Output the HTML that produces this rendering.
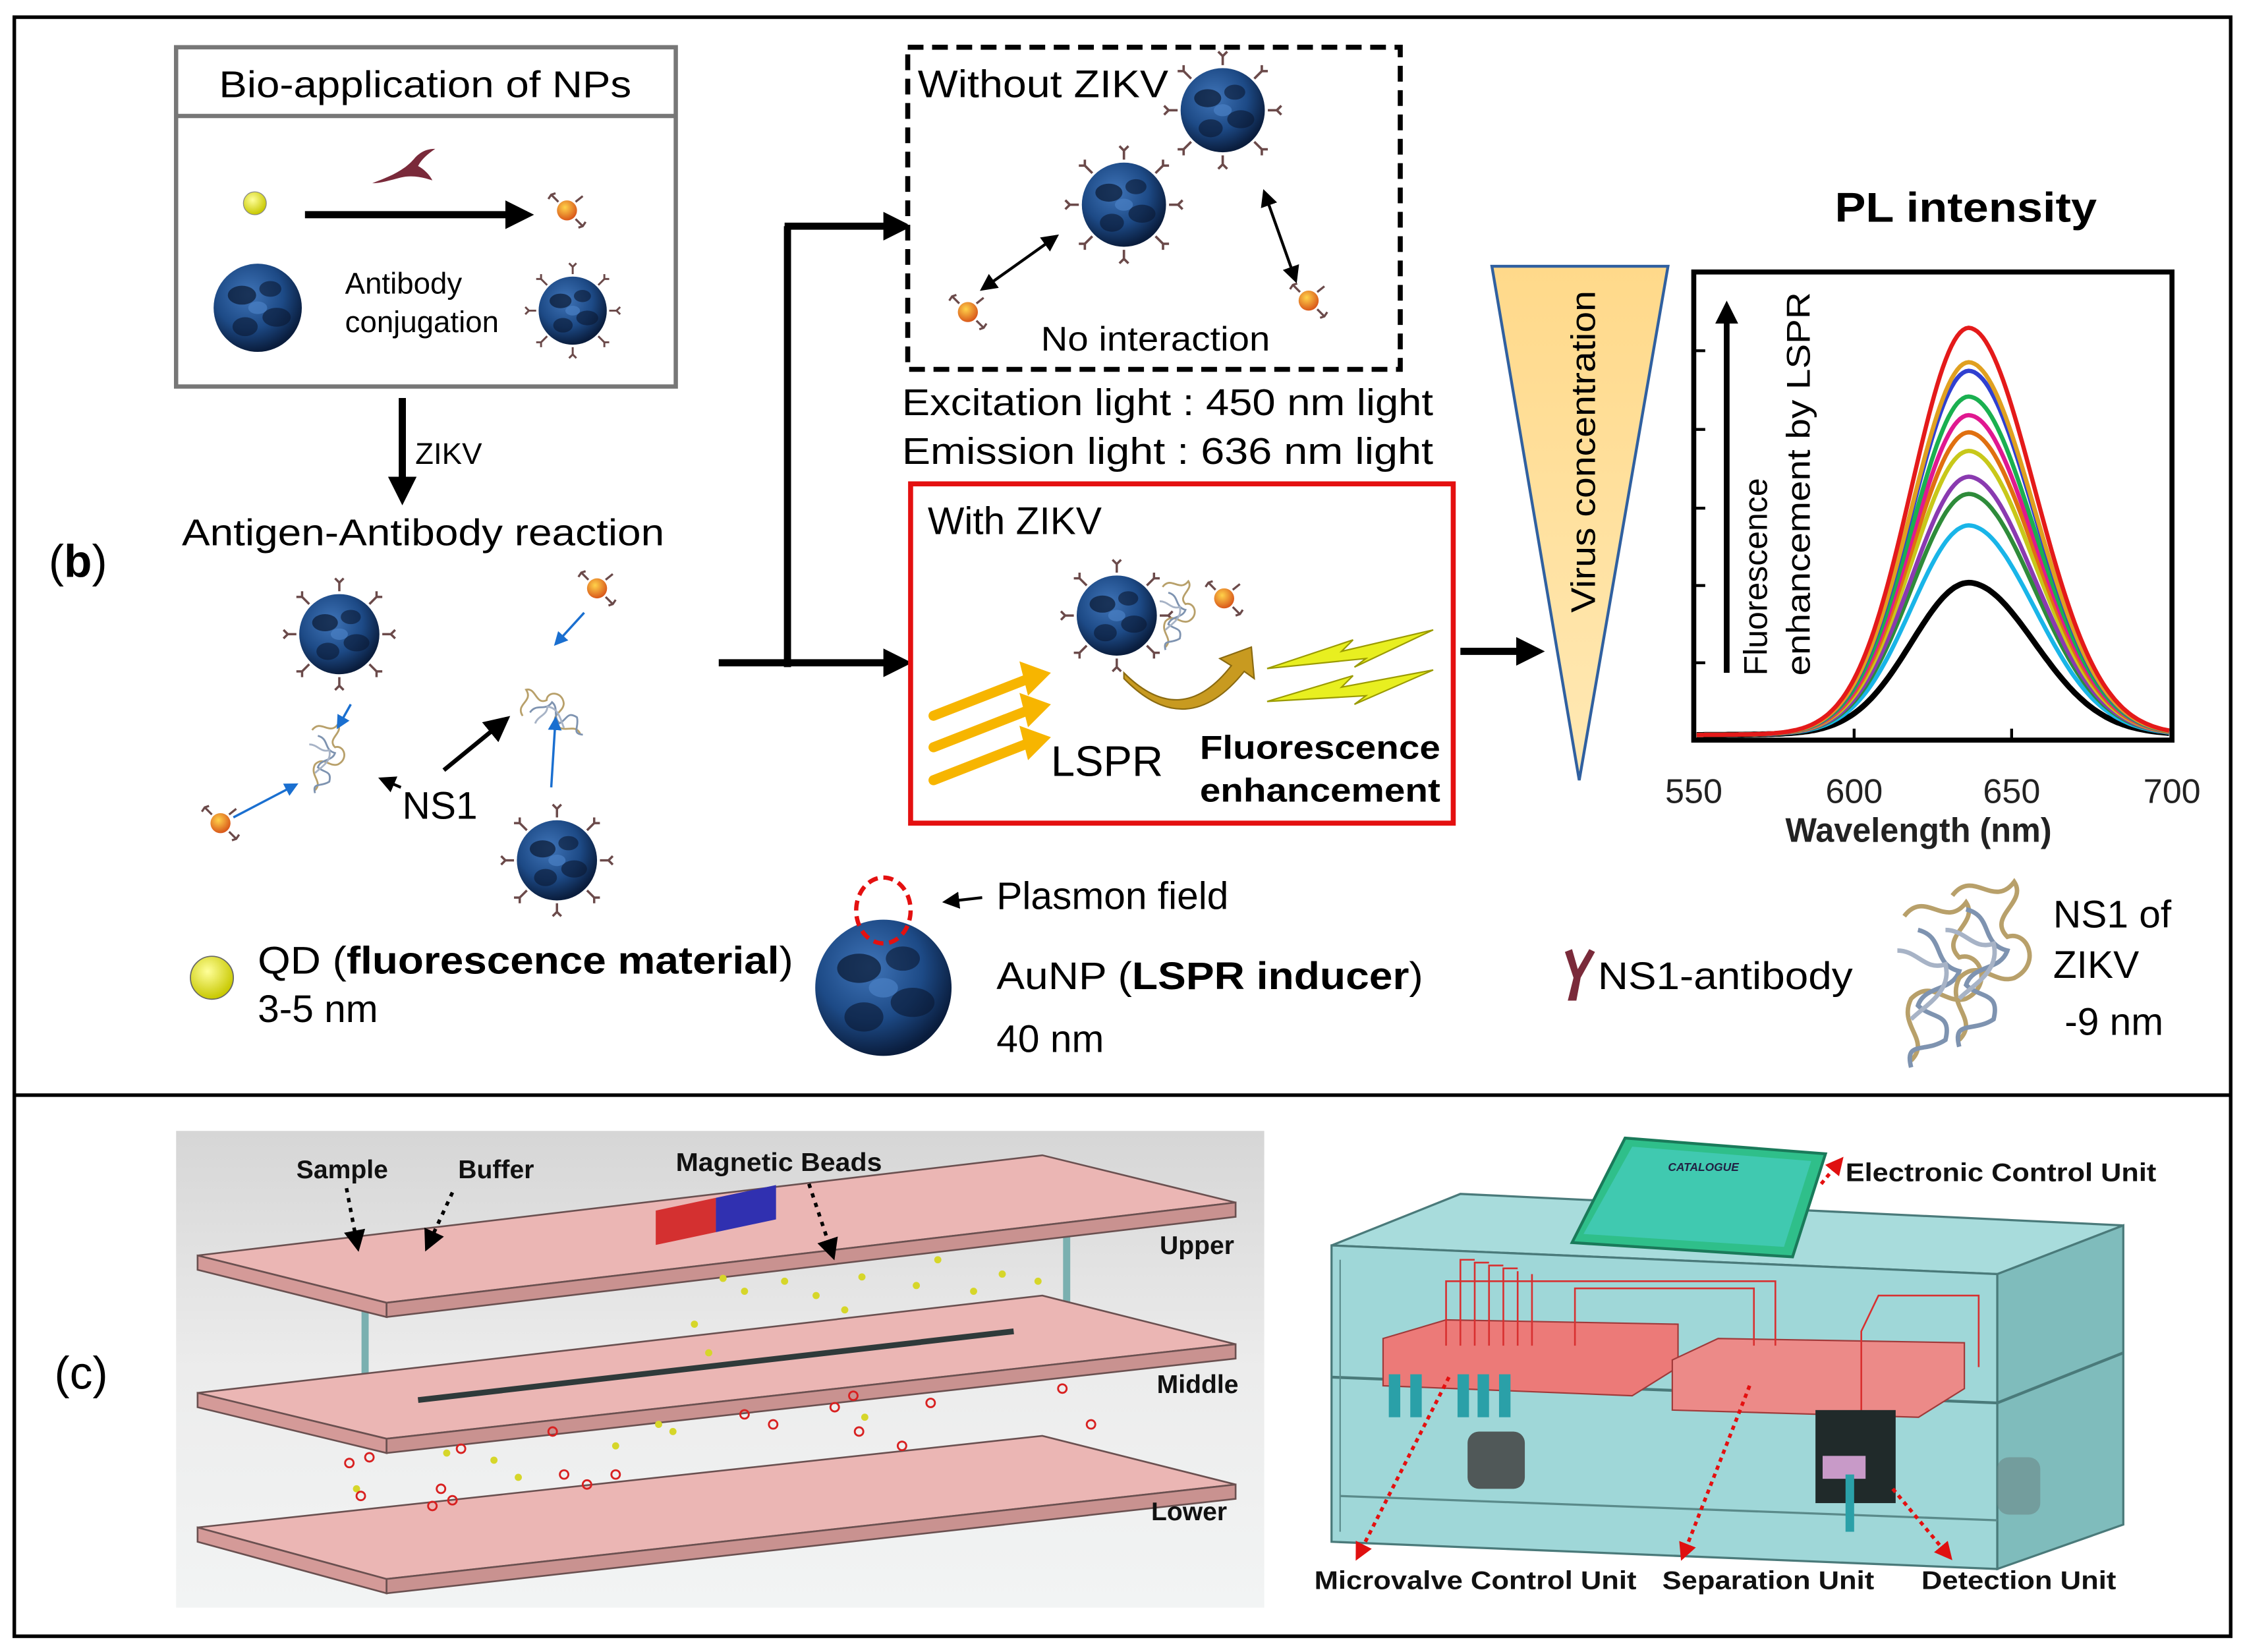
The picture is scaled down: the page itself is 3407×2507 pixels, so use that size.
<!DOCTYPE html>
<html><head><meta charset="utf-8"><style>
html,body{margin:0;padding:0;background:#fff}
svg{display:block}
text{font-family:"Liberation Sans",sans-serif}
</style></head><body>
<svg width="3407" height="2507" viewBox="0 0 1568 1154" preserveAspectRatio="none" xmlns="http://www.w3.org/2000/svg">
<defs>
<radialGradient id="np" cx="40%" cy="35%" r="65%"><stop offset="0" stop-color="#3f74b8"/><stop offset="0.6" stop-color="#1d4a86"/><stop offset="1" stop-color="#0a1d3d"/></radialGradient>
<radialGradient id="qd" cx="40%" cy="35%" r="65%"><stop offset="0" stop-color="#ffff9a"/><stop offset="1" stop-color="#c8c800"/></radialGradient>
<radialGradient id="qdo" cx="40%" cy="35%" r="65%"><stop offset="0" stop-color="#ffd24a"/><stop offset="1" stop-color="#d9581a"/></radialGradient>
<linearGradient id="tri" x1="0" y1="0" x2="0" y2="1"><stop offset="0" stop-color="#ffd98a"/><stop offset="1" stop-color="#ffe9b5"/></linearGradient>
<linearGradient id="bgc" x1="0" y1="0" x2="0" y2="1"><stop offset="0" stop-color="#d6d6d6"/><stop offset="0.5" stop-color="#ececec"/><stop offset="1" stop-color="#f2f4f4"/></linearGradient>
<marker id="ah" markerWidth="6" markerHeight="6" refX="5" refY="3" orient="auto-start-reverse" markerUnits="strokeWidth"><path d="M0,0 L6,3 L0,6 z" fill="#000"/></marker>
<marker id="aht" markerWidth="4" markerHeight="4" refX="3" refY="2" orient="auto" markerUnits="strokeWidth"><path d="M0,0 L4,2 L0,4 z" fill="#000"/></marker>
<marker id="ahb" markerWidth="6" markerHeight="6" refX="5" refY="3" orient="auto" markerUnits="strokeWidth"><path d="M0,0 L6,3 L0,6 z" fill="#1a6fd0"/></marker>
<marker id="ahr" markerWidth="5" markerHeight="5" refX="4" refY="2.5" orient="auto" markerUnits="strokeWidth"><path d="M0,0 L5,2.5 L0,5 z" fill="#e01010"/></marker>
<g id="blob">
<circle r="28" fill="url(#np)"/>
<ellipse cx="-10" cy="-8" rx="9" ry="6" fill="#0a1830" opacity=".7"/>
<ellipse cx="8" cy="-12" rx="7" ry="5" fill="#0a1830" opacity=".6"/>
<ellipse cx="12" cy="6" rx="9" ry="6" fill="#0a1830" opacity=".6"/>
<ellipse cx="-8" cy="12" rx="8" ry="6" fill="#0a1830" opacity=".6"/>
<ellipse cx="0" cy="0" rx="6" ry="4" fill="#4a80c4" opacity=".7"/>
</g>
<g id="npa">
<g stroke="#6b4a4a" stroke-width="1.6" fill="none">
<path d="M0,-30 v-6 m-3,-3 l3,3 l3,-3"/><path d="M0,30 v6 m-3,3 l3,-3 l3,3"/>
<path d="M-30,0 h-6 m-3,-3 l3,3 l-3,3"/><path d="M30,0 h6 m3,-3 l-3,3 l3,3"/>
<path d="M21,-21 l5,-5 m0,-4 v4 h4"/><path d="M-21,-21 l-5,-5 m0,-4 v4 h-4"/>
<path d="M21,21 l5,5 m0,4 v-4 h4"/><path d="M-21,21 l-5,5 m0,4 v-4 h-4"/>
</g>
<use href="#blob"/>
</g>
<g id="qab">
<g stroke="#6b4a4a" stroke-width="1.5" fill="none"><path d="M-6,-6 l-5,-5 m-2,3 l2,-3 l3,-1"/><path d="M6,6 l5,5 m2,-3 l-2,3 l-3,1"/><path d="M6,-6 l5,-4"/></g>
<circle r="7" fill="url(#qdo)"/>
</g>
<g id="ns1" fill="none" stroke-width="1.3">
<path d="M0,0 c6,-8 12,4 18,-4 c4,6 -8,10 -2,16 c6,-2 10,8 2,12 c-6,2 -10,-6 -16,0 c-4,8 6,12 0,18" stroke="#b8a06a"/>
<path d="M4,4 c8,2 4,10 12,12 c-2,6 -10,4 -12,10 c4,4 10,2 8,10 c-6,4 -12,0 -10,8" stroke="#7e93b0"/>
<path d="M-2,10 c6,0 8,6 14,4 c2,8 -6,12 -10,16" stroke="#a7b3c6"/>
</g>
</defs>

<rect x="0" y="0" width="1568" height="1154" fill="#fff"/>
<rect x="10" y="12" width="1548" height="1131" fill="none" stroke="#000" stroke-width="2.5"/>
<line x1="10" y1="765" x2="1558" y2="765" stroke="#000" stroke-width="2.5"/>

<text x="34" y="403" font-family="Liberation Serif" font-size="32">(<tspan font-weight="bold">b</tspan>)</text>
<text x="38" y="970" font-family="Liberation Serif" font-size="32">(c)</text>

<!-- Bio-application box -->
<rect x="123" y="33" width="349" height="237" fill="#fff" stroke="#777" stroke-width="3"/>
<line x1="123" y1="81" x2="472" y2="81" stroke="#777" stroke-width="3"/>
<text x="297" y="68" font-size="26" text-anchor="middle" textLength="288" lengthAdjust="spacingAndGlyphs">Bio-application of NPs</text>
<circle cx="178" cy="142" r="8" fill="url(#qd)" stroke="#888" stroke-width=".6"/>
<line x1="213" y1="150" x2="368" y2="150" stroke="#000" stroke-width="5" marker-end="url(#aht)"/>
<path d="M260,128 c10,-4 22,-8 30,-18 c4,-4 8,-6 14,-6 c-6,4 -10,8 -12,12 c4,2 8,6 10,10 c-6,-2 -14,-4 -22,-2 c-8,2 -14,4 -20,4z" fill="#7a2a3a"/>
<use href="#qab" x="396" y="147"/>
<use href="#blob" transform="translate(180,215) scale(1.1)"/>
<text x="241" y="205" font-size="21">Antibody</text>
<text x="241" y="232" font-size="21">conjugation</text>
<use href="#npa" transform="translate(400,217) scale(0.85)"/>

<line x1="281" y1="278" x2="281" y2="348" stroke="#000" stroke-width="5" marker-end="url(#aht)"/>
<text x="290" y="324" font-size="21">ZIKV</text>
<text x="127" y="381" font-size="26" textLength="337" lengthAdjust="spacingAndGlyphs">Antigen-Antibody reaction</text>

<use href="#npa" x="237" y="443"/>
<use href="#npa" x="389" y="601"/>
<use href="#qab" x="417" y="411"/>
<use href="#qab" x="154" y="575"/>
<use href="#ns1" x="218" y="510"/>
<use href="#ns1" x="372" y="470" transform="rotate(-70 390 490)"/>
<line x1="245" y1="492" x2="236" y2="508" stroke="#1a6fd0" stroke-width="1.6" marker-end="url(#ahb)"/>
<line x1="408" y1="428" x2="388" y2="450" stroke="#1a6fd0" stroke-width="1.6" marker-end="url(#ahb)"/>
<line x1="385" y1="550" x2="388" y2="502" stroke="#1a6fd0" stroke-width="1.6" marker-end="url(#ahb)"/>
<line x1="163" y1="571" x2="207" y2="548" stroke="#1a6fd0" stroke-width="1.6" marker-end="url(#ahb)"/>
<line x1="310" y1="538" x2="354" y2="502" stroke="#000" stroke-width="3" marker-end="url(#ah)"/>
<line x1="280" y1="550" x2="266" y2="544" stroke="#000" stroke-width="2" marker-end="url(#ah)"/>
<text x="281" y="572" font-size="27">NS1</text>

<circle cx="148" cy="683" r="15" fill="url(#qd)" stroke="#666" stroke-width=".8"/>
<text x="180" y="680" font-size="27" textLength="374" lengthAdjust="spacingAndGlyphs">QD (<tspan font-weight="bold">fluorescence material</tspan>)</text>
<text x="180" y="714" font-size="27">3-5 nm</text>

<!-- branching arrows -->
<line x1="502" y1="463" x2="550" y2="463" stroke="#000" stroke-width="5"/>
<line x1="550" y1="463" x2="632" y2="463" stroke="#000" stroke-width="5" marker-end="url(#aht)"/>
<line x1="550" y1="466" x2="550" y2="158" stroke="#000" stroke-width="5"/>
<line x1="548" y1="158" x2="632" y2="158" stroke="#000" stroke-width="5" marker-end="url(#aht)"/>

<!-- Without ZIKV -->
<rect x="634" y="33" width="344" height="225" fill="#fff" stroke="#000" stroke-width="3.5" stroke-dasharray="11,6"/>
<text x="641" y="68" font-size="27" textLength="175" lengthAdjust="spacingAndGlyphs">Without ZIKV</text>
<use href="#npa" transform="translate(854,77) scale(1.05)"/>
<use href="#npa" transform="translate(785,143) scale(1.05)"/>
<use href="#qab" x="676" y="218"/>
<use href="#qab" x="914" y="210"/>
<line x1="686" y1="202" x2="738" y2="165" stroke="#000" stroke-width="2" marker-end="url(#ah)" marker-start="url(#ah)"/>
<line x1="883" y1="134" x2="905" y2="196" stroke="#000" stroke-width="2" marker-end="url(#ah)" marker-start="url(#ah)"/>
<text x="727" y="245" font-size="24" textLength="160" lengthAdjust="spacingAndGlyphs">No interaction</text>
<text x="630" y="290" font-size="26" textLength="371" lengthAdjust="spacingAndGlyphs">Excitation light : 450 nm light</text>
<text x="630" y="324" font-size="26" textLength="371" lengthAdjust="spacingAndGlyphs">Emission light :  636 nm light</text>

<!-- With ZIKV -->
<rect x="636" y="338" width="379" height="237" fill="#fff" stroke="#e41010" stroke-width="3.5"/>
<text x="648" y="373" font-size="27">With ZIKV</text>
<use href="#npa" x="780" y="430"/>
<use href="#ns1" x="812" y="410"/>
<use href="#qab" x="855" y="418"/>
<path d="M785,470 q40,40 75,-5 l-8,-5 l22,-8 l2,22 l-7,-5 q-40,50 -84,5 z" fill="#c89a20" stroke="#8a6a10" stroke-width="1"/>
<g stroke="#f7b500" stroke-width="7" fill="none" stroke-linecap="round">
<line x1="652" y1="500" x2="716" y2="475"/><line x1="652" y1="522" x2="716" y2="497"/><line x1="652" y1="545" x2="716" y2="520"/>
</g>
<g fill="#f7b500"><path d="M712,462 l22,8 l-16,16z"/><path d="M712,484 l22,8 l-16,16z"/><path d="M712,507 l22,8 l-16,16z"/></g>
<path d="M885,467 l60,-20 l-8,8 l64,-15 l-55,26 l8,-6 z" fill="#e8ef20" stroke="#9a9a00" stroke-width="1"/>
<path d="M885,490 l60,-18 l-8,8 l64,-12 l-55,24 l8,-6 z" fill="#e8ef20" stroke="#9a9a00" stroke-width="1"/>
<text x="734" y="542" font-size="30">LSPR</text>
<text x="838" y="530" font-size="23" font-weight="bold" textLength="168" lengthAdjust="spacingAndGlyphs">Fluorescence</text>
<text x="838" y="560" font-size="23" font-weight="bold" textLength="168" lengthAdjust="spacingAndGlyphs">enhancement</text>

<line x1="1020" y1="455" x2="1074" y2="455" stroke="#000" stroke-width="5" marker-end="url(#aht)"/>

<!-- AuNP legend -->
<use href="#blob" transform="translate(617,690) scale(1.7)"/>
<ellipse cx="617" cy="636" rx="19" ry="23" fill="none" stroke="#e41010" stroke-width="3" stroke-dasharray="7,4"/>
<line x1="686" y1="627" x2="660" y2="630" stroke="#000" stroke-width="2" marker-end="url(#ah)"/>
<text x="696" y="635" font-size="27">Plasmon field</text>
<text x="696" y="691" font-size="27" textLength="298" lengthAdjust="spacingAndGlyphs">AuNP (<tspan font-weight="bold">LSPR inducer</tspan>)</text>
<text x="696" y="735" font-size="27">40 nm</text>

<!-- triangle -->
<polygon points="1042,186 1165,186 1103,545" fill="url(#tri)" stroke="#3060a0" stroke-width="2"/>
<text transform="translate(1114,428) rotate(-90)" font-size="24" textLength="225" lengthAdjust="spacingAndGlyphs">Virus concentration</text>

<!-- PL plot -->
<text x="1373" y="155" font-size="29" font-weight="bold" text-anchor="middle" textLength="183" lengthAdjust="spacingAndGlyphs">PL intensity</text>
<g id="plot"></g>
<rect x="1183" y="190" width="334" height="327" fill="none" stroke="#000" stroke-width="3.5"/>
<g stroke="#000" stroke-width="2">
<line x1="1183" y1="245" x2="1191" y2="245"/><line x1="1183" y1="300" x2="1191" y2="300"/><line x1="1183" y1="355" x2="1191" y2="355"/><line x1="1183" y1="409" x2="1191" y2="409"/><line x1="1183" y1="463" x2="1191" y2="463"/>
<line x1="1295" y1="517" x2="1295" y2="509"/><line x1="1405" y1="517" x2="1405" y2="509"/>
</g>
<line x1="1206" y1="470" x2="1206" y2="214" stroke="#000" stroke-width="4" marker-end="url(#aht)"/>
<text transform="translate(1234,472) rotate(-90)" font-size="23">Fluorescence</text>
<text transform="translate(1264,472) rotate(-90)" font-size="23" textLength="268" lengthAdjust="spacingAndGlyphs">enhancement by LSPR</text>
<g font-size="24" text-anchor="middle" font-weight="bold" fill="#222">
<text x="1183" y="561" font-weight="normal">550</text><text x="1295" y="561" font-weight="normal">600</text><text x="1405" y="561" font-weight="normal">650</text><text x="1517" y="561" font-weight="normal">700</text>
<text x="1340" y="588" textLength="186" lengthAdjust="spacingAndGlyphs">Wavelength (nm)</text>
</g>

<!-- NS1 legend -->
<path d="M1093,665 l6,18 l-4,16 l6,0 l3,-16 l10,-18 l-4,-2 l-8,14 l-4,-14z" fill="#7a2a3a"/>
<text x="1116" y="691" font-size="27" textLength="178" lengthAdjust="spacingAndGlyphs">NS1-antibody</text>
<g transform="translate(1330,640) scale(2.4)"><use href="#ns1"/><use href="#ns1" x="14" y="-6"/></g>
<text x="1434" y="648" font-size="27">NS1 of</text>
<text x="1434" y="683" font-size="27">ZIKV</text>
<text x="1442" y="723" font-size="27">-9 nm</text>

<!-- (c) left image -->
<rect x="123" y="790" width="760" height="333" fill="url(#bgc)"/>
<g stroke="#6a5050" stroke-width="1.2">
<polygon points="138,1067 728,1003 863,1037 270,1103" fill="#ebb6b4"/>
<polygon points="138,1067 270,1103 270,1113 138,1077" fill="#d49a98"/>
<polygon points="270,1103 863,1037 863,1047 270,1113" fill="#c99290"/>
</g>
<line x1="255" y1="885" x2="255" y2="985" stroke="#7ab0b0" stroke-width="5"/>
<line x1="745" y1="830" x2="745" y2="925" stroke="#7ab0b0" stroke-width="5"/>
<g stroke="#6a5050" stroke-width="1.2">
<polygon points="138,973 728,905 863,939 270,1005" fill="#ebb6b4"/>
<polygon points="138,973 270,1005 270,1015 138,983" fill="#d49a98"/>
<polygon points="270,1005 863,939 863,949 270,1015" fill="#c99290"/>
</g>
<line x1="292" y1="978" x2="708" y2="930" stroke="#2f3a3a" stroke-width="4"/>
<g stroke="#6a5050" stroke-width="1.2">
<polygon points="138,877 728,807 863,840 270,910" fill="#ebb6b4"/>
<polygon points="138,877 270,910 270,920 138,887" fill="#d49a98"/>
<polygon points="270,910 863,840 863,850 270,920" fill="#c99290"/>
</g>
<rect x="458" y="839" width="42" height="24" fill="#d43030" transform="skewY(-12) translate(0,104)"/>
<rect x="500" y="839" width="42" height="24" fill="#3030b0" transform="skewY(-12) translate(0,104)"/>
<g fill="#d6d62a">
<circle cx="505" cy="893" r="2.5"/><circle cx="520" cy="902" r="2.5"/><circle cx="548" cy="895" r="2.5"/><circle cx="570" cy="905" r="2.5"/><circle cx="602" cy="892" r="2.5"/><circle cx="640" cy="898" r="2.5"/><circle cx="655" cy="880" r="2.5"/><circle cx="680" cy="902" r="2.5"/><circle cx="700" cy="890" r="2.5"/><circle cx="725" cy="895" r="2.5"/><circle cx="590" cy="915" r="2.5"/><circle cx="485" cy="925" r="2.5"/><circle cx="495" cy="945" r="2.5"/><circle cx="460" cy="995" r="2.5"/><circle cx="470" cy="1000" r="2.5"/><circle cx="345" cy="1020" r="2.5"/><circle cx="362" cy="1032" r="2.5"/><circle cx="312" cy="1015" r="2.5"/><circle cx="249" cy="1040" r="2.5"/><circle cx="430" cy="1010" r="2.5"/><circle cx="604" cy="990" r="2.5"/>
</g>
<g fill="none" stroke="#d82020" stroke-width="1.3">
<circle cx="244" cy="1022" r="3"/><circle cx="258" cy="1018" r="3"/><circle cx="308" cy="1040" r="3"/><circle cx="302" cy="1052" r="3"/><circle cx="316" cy="1048" r="3"/><circle cx="322" cy="1012" r="3"/><circle cx="386" cy="1000" r="3"/><circle cx="394" cy="1030" r="3"/><circle cx="410" cy="1037" r="3"/><circle cx="430" cy="1030" r="3"/><circle cx="520" cy="988" r="3"/><circle cx="540" cy="995" r="3"/><circle cx="583" cy="983" r="3"/><circle cx="596" cy="975" r="3"/><circle cx="600" cy="1000" r="3"/><circle cx="630" cy="1010" r="3"/><circle cx="650" cy="980" r="3"/><circle cx="742" cy="970" r="3"/><circle cx="762" cy="995" r="3"/><circle cx="252" cy="1045" r="3"/>
</g>
<g stroke="#000" stroke-width="2.5" stroke-dasharray="3,4" fill="none">
<line x1="242" y1="830" x2="250" y2="872" marker-end="url(#ah)"/>
<line x1="316" y1="833" x2="298" y2="872" marker-end="url(#ah)"/>
<line x1="565" y1="827" x2="582" y2="878" marker-end="url(#ah)"/>
</g>
<g font-size="18" font-weight="bold" fill="#111">
<text x="207" y="823">Sample</text><text x="320" y="823">Buffer</text><text x="472" y="818" textLength="144" lengthAdjust="spacingAndGlyphs">Magnetic Beads</text>
<text x="810" y="876">Upper</text><text x="808" y="973">Middle</text><text x="804" y="1062">Lower</text>
</g>

<!-- (c) right image -->
<polygon points="930,870 1020,834 1483,856 1395,890" fill="#a8dcdc" stroke="#4a7a7a" stroke-width="1.5"/>
<polygon points="930,870 1395,890 1395,1096 930,1077" fill="#9fd7d8" stroke="#4a7a7a" stroke-width="1.5"/>
<polygon points="1395,890 1483,856 1483,1065 1395,1096" fill="#7fbcbc" stroke="#4a7a7a" stroke-width="1.5"/>
<line x1="930" y1="962" x2="1395" y2="980" stroke="#4a7a7a" stroke-width="2"/>
<line x1="1395" y1="980" x2="1483" y2="945" stroke="#4a7a7a" stroke-width="2"/>
<line x1="936" y1="880" x2="936" y2="1070" stroke="#5a8a8a" stroke-width="1"/>
<line x1="936" y1="1045" x2="1395" y2="1062" stroke="#5a8a8a" stroke-width="1.5"/>
<polygon points="966,935 1010,922 1172,925 1172,955 1140,975 966,968" fill="#ec7a78" stroke="#a03a3a"/>
<polygon points="1168,950 1200,935 1372,938 1372,970 1340,990 1168,985" fill="#ec8a88" stroke="#a03a3a"/>
<g stroke="#d83030" stroke-width="1.2" fill="none">
<path d="M1010,940 v-45 h230 v45"/><path d="M1020,940 v-60 h10"/><path d="M1030,940 v-58 h10"/><path d="M1040,940 v-56 h10"/><path d="M1050,940 v-54 h10"/><path d="M1060,940 v-52"/><path d="M1070,940 v-50"/><path d="M1100,940 v-40 h125 v40"/><path d="M1300,990 v-60 l12,-25 h70 v50"/>
</g>
<rect x="1268" y="985" width="56" height="65" fill="#202a2a"/>
<rect x="1273" y="1017" width="30" height="16" fill="#c89ac8"/>
<rect x="1289" y="1030" width="6" height="40" fill="#2aa0a8"/>
<g fill="#2aa0a8"><rect x="970" y="960" width="8" height="30"/><rect x="985" y="960" width="8" height="30"/><rect x="1018" y="960" width="8" height="30"/><rect x="1032" y="960" width="8" height="30"/><rect x="1047" y="960" width="8" height="30"/></g>
<rect x="1025" y="1000" width="40" height="40" rx="8" fill="#505858"/>
<rect x="1395" y="1018" width="30" height="40" rx="8" fill="#6a8888" opacity=".6"/>
<polygon points="1135,795 1275,806 1252,878 1098,868" fill="#2fbf8a" stroke="#1a7a5a" stroke-width="2"/>
<polygon points="1140,801 1265,811 1246,871 1106,862" fill="#40c9b0"/>
<text x="1165" y="818" font-size="8" font-family="Liberation Serif" font-style="italic" font-weight="bold" fill="#224">CATALOGUE</text>
<g stroke="#e41010" stroke-width="2.5" stroke-dasharray="3,3" fill="none">
<line x1="1012" y1="962" x2="948" y2="1088" marker-end="url(#ahr)"/>
<line x1="1222" y1="968" x2="1175" y2="1088" marker-end="url(#ahr)"/>
<line x1="1322" y1="1040" x2="1362" y2="1088" marker-end="url(#ahr)"/>
<line x1="1272" y1="827" x2="1286" y2="810" marker-end="url(#ahr)"/>
</g>
<g font-size="18" font-weight="bold" fill="#111">
<text x="1289" y="825" textLength="217" lengthAdjust="spacingAndGlyphs">Electronic Control Unit</text>
<text x="918" y="1110" textLength="225" lengthAdjust="spacingAndGlyphs">Microvalve Control Unit</text><text x="1161" y="1110" textLength="148" lengthAdjust="spacingAndGlyphs">Separation Unit</text><text x="1342" y="1110" textLength="136" lengthAdjust="spacingAndGlyphs">Detection Unit</text>
</g>

<script>
(function(){
var g=document.getElementById('plot');
var cols=[["#000",410],["#19b5e8",370],["#2e8b3a",348],["#8a3ab0",336],["#c8c81a",318],["#e07010",305],["#e01890",293],["#1ab050",280],["#3040d0",262],["#e0a020",256],["#e41a1a",232]];
var base=514;
cols.forEach(function(c){
 var h=base-c[1];var d='';
 for(var x=1185;x<=1515;x+=2){
  var dx=x-1375;var s=dx<0?40:46;
  var y=base-h*Math.exp(-dx*dx/(2*s*s)) - 3*Math.exp(-Math.abs(dx)/120);
  d+=(d?'L':'M')+x+','+y.toFixed(1);
 }
 var p=document.createElementNS('http://www.w3.org/2000/svg','path');
 p.setAttribute('d',d);p.setAttribute('fill','none');p.setAttribute('stroke',c[0]);p.setAttribute('stroke-width',c[0]=="#000"?4:3);
 g.appendChild(p);
});
})();
</script>
</svg>
</body></html>
